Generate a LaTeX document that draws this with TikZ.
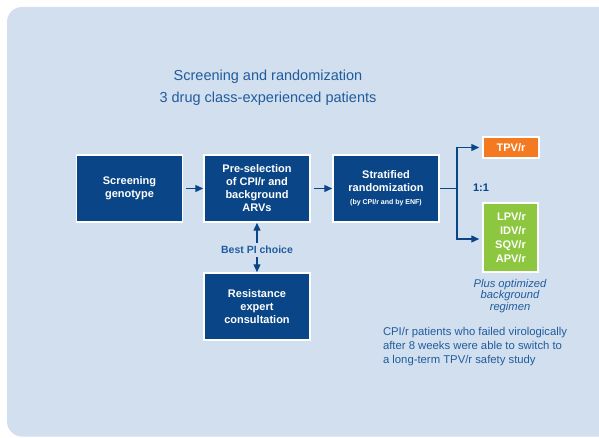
\documentclass[tikz,border=0pt]{standalone}
\usepackage{fontspec}
\setmainfont{Liberation Sans}
\usetikzlibrary{arrows.meta}

\definecolor{panelblue}{RGB}{210,223,239}
\definecolor{boxblue}{RGB}{10,70,135}
\definecolor{textblue}{RGB}{32,92,157}
\definecolor{tpvorange}{RGB}{243,122,32}
\definecolor{armgreen}{RGB}{141,198,63}

\tikzset{
    box/.style={draw=white, line width=1.5pt, fill=boxblue, text=white, align=center,
        minimum width=106pt, minimum height=67pt, inner sep=2pt,
        font=\fontsize{11}{13}\selectfont\bfseries},
    armbox/.style={draw=white, line width=1.5pt, text=white, inner sep=0pt,
        font=\fontsize{11}{14}\selectfont\bfseries},
    flow/.style={-{Triangle[length=8pt,width=7pt]}, boxblue, line width=1.3pt},
}

\begin{document}
\begin{tikzpicture}[x=1pt,y=-1pt]
    \useasboundingbox (0,0) rectangle (599,438);
    % Panel
    \fill[panelblue, rounded corners=15pt] (7,7) rectangle (640,436.5);

    % Title
    \node[textblue, align=center, font=\fontsize{14.5}{22}\selectfont] (title) at (268,88)
        {Screening and randomization\\3 drug class-experienced patients};

    % Main boxes
    \node[box] (screen) at (129.5,188.5) {Screening\\genotype};
    \node[box] (presel) at (257,188.5) {Pre-selection\\of CPI/r and\\background\\ARVs};
    \node[box] (strat) at (386,188.5)
        {Stratified\\randomization\\{\fontsize{7}{8}\selectfont (by CPI/r and by ENF)}};
    \node[box] (expert) at (257,306.5) {Resistance\\expert\\consultation};

    % Best PI choice link
    \node[textblue, font=\fontsize{10.5}{12}\selectfont\bfseries] (best) at (257,250) {Best PI choice};
    \draw[flow] (best) -- (presel);
    \draw[flow] (best) -- (expert);

    % Flow
    \draw[flow, shorten <=3pt] (screen) -- (presel);
    \draw[flow, shorten <=3pt] (presel) -- (strat);

    % Arms
    \node[armbox, fill=tpvorange, minimum width=56pt, minimum height=21pt] (tpv) at (511,147.5) {TPV/r};
    \node[armbox, fill=armgreen, minimum width=55pt, minimum height=69pt, align=right] (cpi) at (510.5,237.5)
        {LPV/r\\IDV/r\\SQV/r\\APV/r};
    \coordinate (fork) at (457,188.5);
    \draw[boxblue, line width=1.3pt] (strat.east) -- (fork);
    \draw[flow, shorten >=3pt] (fork) |- (tpv.west);
    \draw[flow, shorten >=3pt] (fork) |- ([yshift=-1.5pt]cpi.west);
    \node[boxblue, font=\fontsize{11}{13}\selectfont\bfseries] (ratio) at (481,188) {1:1};

    % Notes
    \node[textblue, align=center, font=\fontsize{11.2}{11.5}\selectfont\itshape] (regimen) at (510,296)
        {Plus optimized\\background\\regimen};
    \node[textblue, anchor=west, align=left, font=\fontsize{11.3}{14}\selectfont] (switch) at (379.5,347)
        {CPI/r patients who failed virologically\\after 8 weeks were able to switch to\\a long-term TPV/r safety study};
\end{tikzpicture}
\end{document}
